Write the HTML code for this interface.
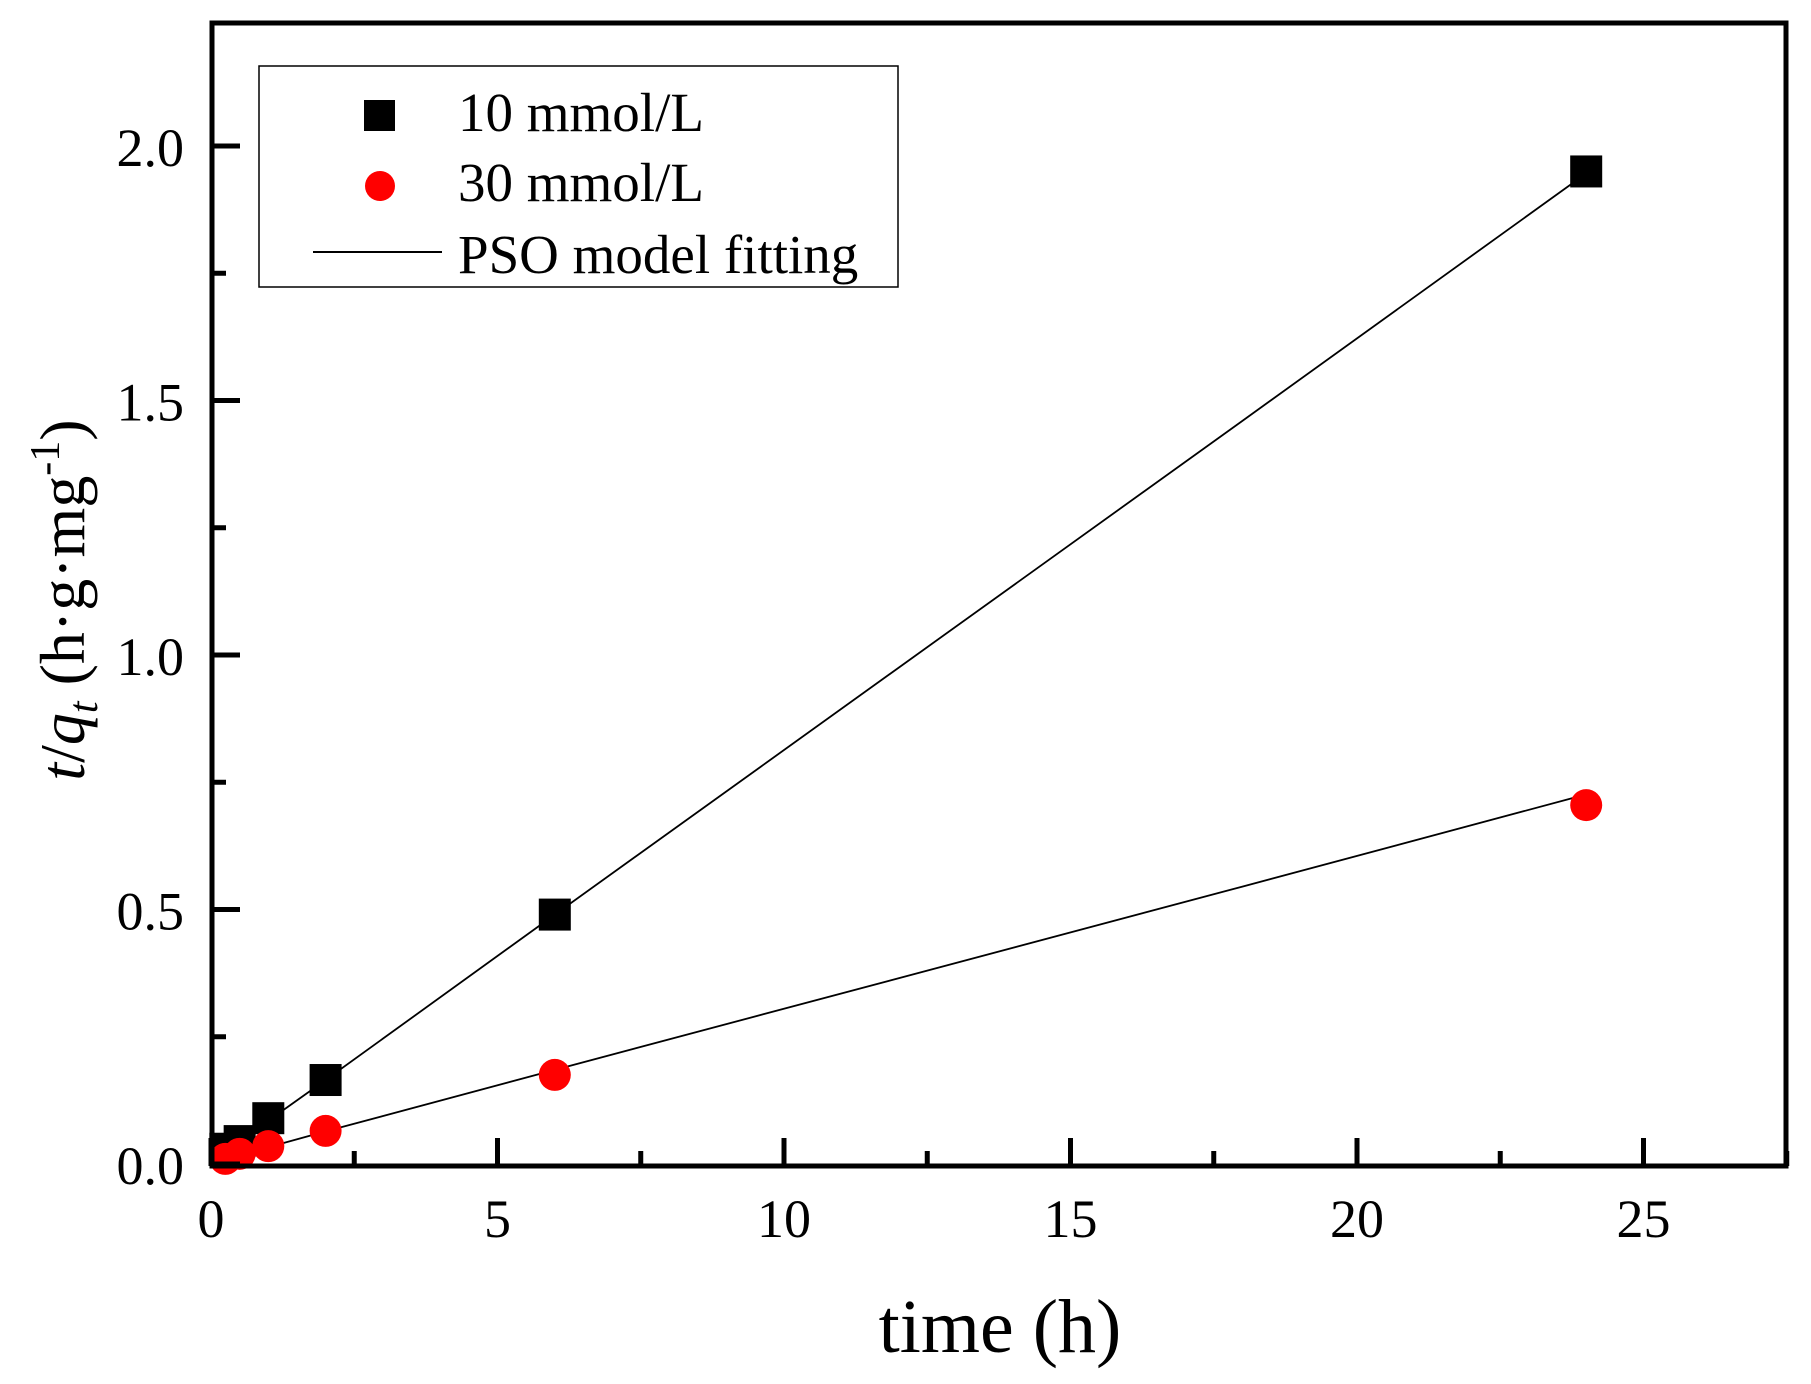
<!DOCTYPE html>
<html><head><meta charset="utf-8"><style>
body{margin:0;background:#fff}
svg{display:block;font-family:"Liberation Serif",serif}
</style></head><body>
<svg id="chart" width="1811" height="1384" viewBox="0 0 1811 1384" xmlns="http://www.w3.org/2000/svg">
<g id="fits"></g>
<g id="marks"></g>
<rect x="212" y="23" width="1574" height="1143" fill="none" stroke="#000" stroke-width="5"/>
<g id="ticks"></g>
<text x="1000" y="1352" font-size="76" text-anchor="middle">time (h)</text>
<text transform="translate(84,600) rotate(-90)" font-size="64" text-anchor="middle"><tspan font-style="italic">t</tspan>/<tspan font-style="italic">q</tspan><tspan font-style="italic" font-size="42" dy="13">t</tspan><tspan dy="-13"> (h·g·mg</tspan><tspan font-size="42" dy="-25">-1</tspan><tspan dy="25">)</tspan></text>
<g>
<rect x="259" y="66" width="639" height="221" fill="#fff" stroke="#000" stroke-width="1.5"/>
<rect x="364" y="100" width="31" height="31" fill="#000"/>
<text x="458" y="131" font-size="55">10 mmol/L</text>
<circle cx="380" cy="186" r="15" fill="#f00"/>
<text x="458" y="201" font-size="55">30 mmol/L</text>
<line x1="313" y1="252" x2="442" y2="252" stroke="#000" stroke-width="2"/>
<text x="458" y="273" font-size="55">PSO model fitting</text>
</g>
</svg>
<script>
const times = [0.25, 0.5, 1, 2, 6, 24];
const series10 = [0.03, 0.045, 0.09, 0.165, 0.49, 1.95];
const series30 = [0.01, 0.02, 0.035, 0.065, 0.175, 0.705];
const fitTimes = [0.2, 1, 2, 6, 12, 18, 23.8];
const fit10 = [0.02, 0.085, 0.165, 0.49, 0.975, 1.46, 1.93];
const fit30 = [0.008, 0.033, 0.064, 0.185, 0.365, 0.545, 0.72];
const xTicks = [0, 5, 10, 15, 20, 25];
const yTicks = [0.0, 0.5, 1.0, 1.5, 2.0];

const X0=211, XS=57.3, Y0=1164, YS=509;
const sx = v => X0 + v*XS;
const sy = v => Y0 - v*YS;
const NS="http://www.w3.org/2000/svg";
function mk(tag, attrs, parent){const e=document.createElementNS(NS,tag);for(const k in attrs)e.setAttribute(k,attrs[k]);parent.appendChild(e);return e;}
const fits=document.getElementById('fits'), marks=document.getElementById('marks'), ticks=document.getElementById('ticks');

[[fit10,'fit-line-10'],[fit30,'fit-line-30']].forEach(([arr,name])=>{
  const p=mk('polyline',{points:fitTimes.map((t,i)=>sx(t)+','+sy(arr[i])).join(' '),fill:'none',stroke:'#000','stroke-width':1.8},fits);
  
  
});
times.forEach((t,i)=>{
  const r=mk('rect',{x:sx(t)-16,y:sy(series10[i])-16,width:32,height:32,fill:'#000'},marks);
  
  
});
times.forEach((t,i)=>{
  const c=mk('circle',{cx:sx(t),cy:sy(series30[i]),r:16,fill:'#f00'},marks);
  
  
});
xTicks.forEach(v=>{
  const l=mk('line',{x1:sx(v),y1:1166,x2:sx(v),y2:1138,stroke:'#000','stroke-width':5},ticks);
  
  
  const m=mk('line',{x1:sx(v+2.5),y1:1166,x2:sx(v+2.5),y2:1151,stroke:'#000','stroke-width':5},ticks);
  
  
  const t=mk('text',{x:sx(v),y:1237,'font-size':54,'text-anchor':'middle'},ticks);
  t.textContent=v;
  
  
});
yTicks.forEach(v=>{
  const l=mk('line',{x1:212,y1:sy(v),x2:240,y2:sy(v),stroke:'#000','stroke-width':5},ticks);
  
  
  if(v+0.25<2.25){
    const m=mk('line',{x1:212,y1:sy(v+0.25),x2:226,y2:sy(v+0.25),stroke:'#000','stroke-width':5},ticks);
    
    
  }
  const t=mk('text',{x:184,y:sy(v)+20,'font-size':54,'text-anchor':'end'},ticks);
  t.textContent=v.toFixed(1);
  
  
});
</script>
</body></html>
